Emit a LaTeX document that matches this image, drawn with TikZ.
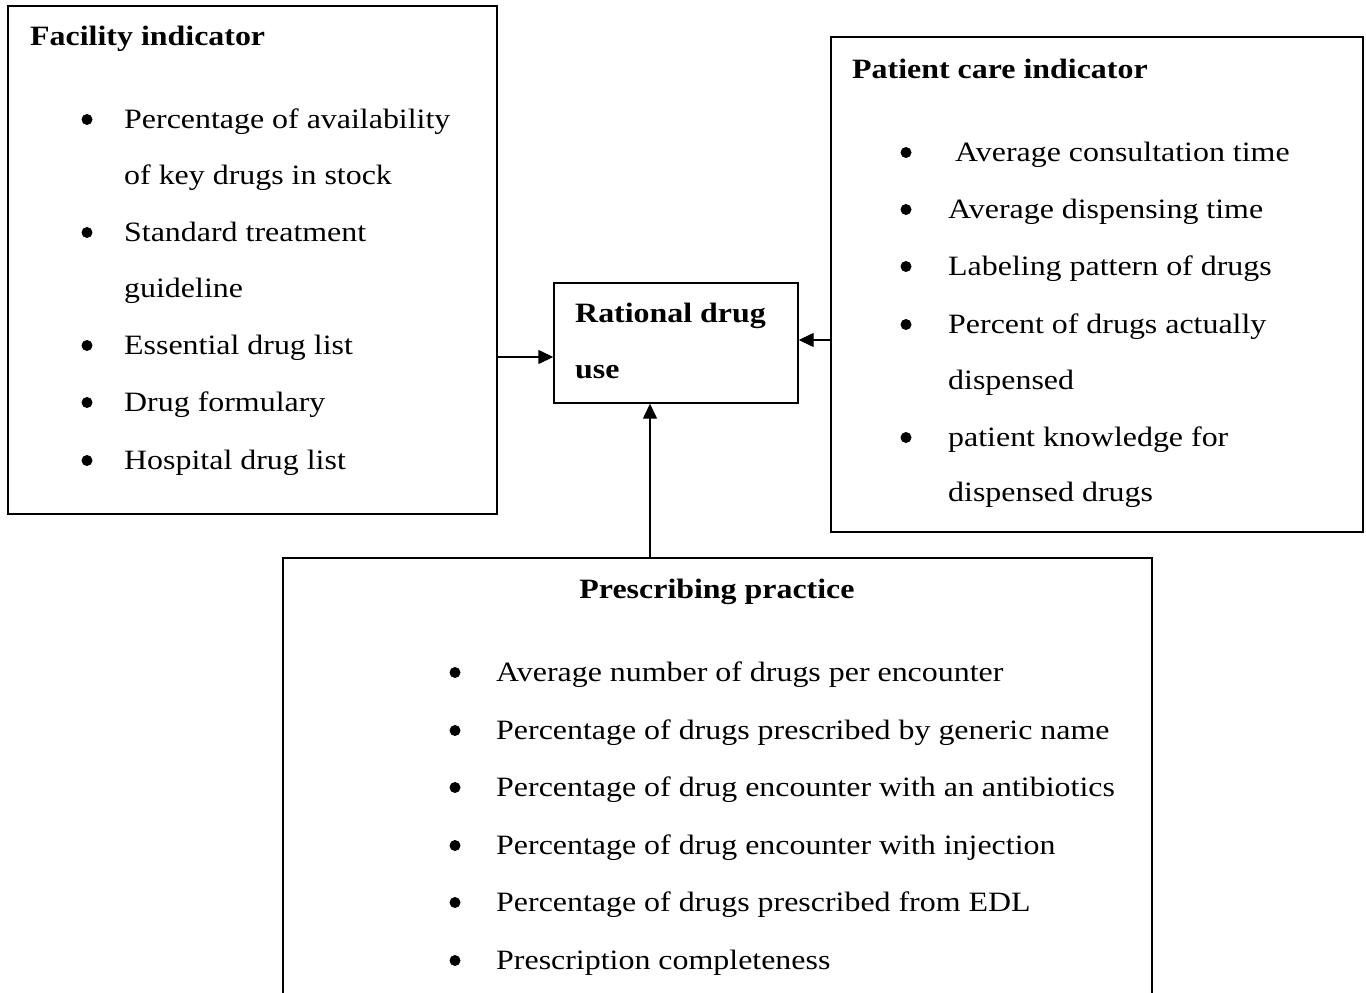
\documentclass[tikz,border=0pt]{standalone}
\usepackage{fontspec}
\setmainfont{Liberation Serif}[FakeStretch=1.14]
\usetikzlibrary{arrows.meta}
\begin{document}
\begin{tikzpicture}[x=1pt, y=-1pt, font=\fontsize{28}{34}\selectfont,
    box/.style={draw, line width=1.4pt, inner sep=0pt},
    txt/.style={anchor=base west, inner sep=0pt},
    bul/.style={circle, fill, inner sep=0pt, minimum size=11pt, yshift=8.5pt},
    arr/.style={line width=1.4pt, -{Triangle[length=15pt, width=14pt]}}]
    \useasboundingbox (0,0) rectangle (1366,993);
    % Boxes
    \node[box, minimum width=489, minimum height=508] (facility) at (252.5,260) {};
    \node[box, minimum width=244, minimum height=120] (rational) at (676,343) {};
    \node[box, minimum width=532, minimum height=495] (patient) at (1097,284.5) {};
    \coordinate (prescBL) at (283,993); \coordinate (prescTL) at (283,558);
    \coordinate (prescTR) at (1152,558); \coordinate (prescBR) at (1152,993);
    \coordinate (prescTop) at (650,558);
    \draw[line width=1.4pt] (prescBL) -- (prescTL) -- (prescTR) -- (prescBR);
    % Facility indicator
    \node[txt] (facTitle) at (30,45) {\textbf{Facility indicator}};
    \node[bul] (fb1) at (87,128) {}; \node[txt] (f1) at (124,128) {Percentage of availability};
    \node[txt] (f2) at (124,184) {of key drugs in stock};
    \node[bul] (fb3) at (87,241) {}; \node[txt] (f3) at (124,241) {Standard treatment};
    \node[txt] (f4) at (124,297) {guideline};
    \node[bul] (fb5) at (87,354) {}; \node[txt] (f5) at (124,354) {Essential drug list};
    \node[bul] (fb6) at (87,411) {}; \node[txt] (f6) at (124,411) {Drug formulary};
    \node[bul] (fb7) at (87,469) {}; \node[txt] (f7) at (124,469) {Hospital drug list};
    % Rational drug use
    \node[txt] (rat1) at (575,322) {\textbf{Rational drug}};
    \node[txt] (rat2) at (575,378) {\textbf{use}};
    % Patient care indicator
    \node[txt] (patTitle) at (852,78) {\textbf{Patient care indicator}};
    \node[bul] (pb1) at (906,161) {}; \node[txt] (p1) at (955,161) {Average consultation time};
    \node[bul] (pb2) at (906,218) {}; \node[txt] (p2) at (948,218) {Average dispensing time};
    \node[bul] (pb3) at (906,275) {}; \node[txt] (p3) at (948,275) {Labeling pattern of drugs};
    \node[bul] (pb4) at (906,333) {}; \node[txt] (p4) at (948,333) {Percent of drugs actually};
    \node[txt] (p5) at (948,389) {dispensed};
    \node[bul] (pb6) at (906,446) {}; \node[txt] (p6) at (948,446) {patient knowledge for};
    \node[txt] (p7) at (948,501) {dispensed drugs};
    % Prescribing practice
    \node[anchor=base, inner sep=0pt] (presTitle) at (717,598) {\textbf{Prescribing practice}};
    \node[bul] (rb1) at (455,681) {}; \node[txt] (r1) at (496,681) {Average number of drugs per encounter};
    \node[bul] (rb2) at (455,739) {}; \node[txt] (r2) at (496,739) {Percentage of drugs prescribed by generic name};
    \node[bul] (rb3) at (455,796) {}; \node[txt] (r3) at (496,796) {Percentage of drug encounter with an antibiotics};
    \node[bul] (rb4) at (455,854) {}; \node[txt] (r4) at (496,854) {Percentage of drug encounter with injection};
    \node[bul] (rb5) at (455,911) {}; \node[txt] (r5) at (496,911) {Percentage of drugs prescribed from EDL};
    \node[bul] (rb6) at (455,969) {}; \node[txt] (r6) at (496,969) {Prescription completeness};
    % Arrows
    \draw[arr] (facility.east |- 0,357) -- (rational.west |- 0,357);
    \draw[arr] (patient.west |- 0,340) -- (rational.east |- 0,340);
    \draw[arr] (prescTop) -- (prescTop |- rational.south);
\end{tikzpicture}
\end{document}
